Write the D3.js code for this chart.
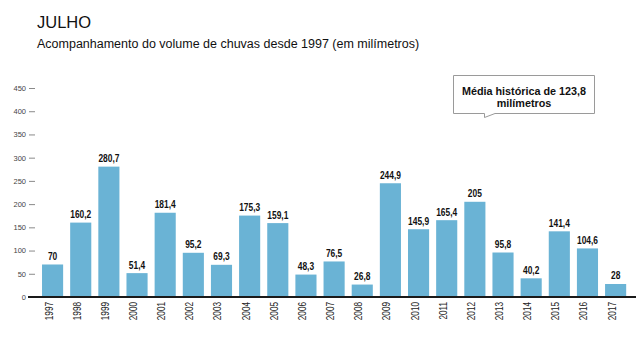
<!DOCTYPE html>
<html>
<head>
<meta charset="utf-8">
<script src="https://cdn.jsdelivr.net/npm/d3@7"></script>
<style>
  html, body { margin: 0; padding: 0; background: #fff; }
  svg { display: block; }
</style>
</head>
<body>
<svg id="chart" width="640" height="341"></svg>
<script>
// Rainfall in July, 1997–2017 (mm)
const years = ["1997","1998","1999","2000","2001","2002","2003","2004","2005","2006","2007",
               "2008","2009","2010","2011","2012","2013","2014","2015","2016","2017"];
const rainfall = [70, 160.2, 280.7, 51.4, 181.4, 95.2, 69.3, 175.3, 159.1, 48.3, 76.5,
                  26.8, 244.9, 145.9, 165.4, 205, 95.8, 40.2, 141.4, 104.6, 28];
const yTicks = [0, 50, 100, 150, 200, 250, 300, 350, 400, 450];
const historicalMean = 123.8;

const fmt = v => String(v).replace(".", ",");

const svg = d3.select("#chart");
const sans = "'Liberation Sans', Arial, sans-serif";
const condense = 0.8; // horizontal squeeze for the condensed labels

// Title block
svg.append("text").attr("x", 37).attr("y", 28)
  .attr("font-family", sans).attr("font-size", 16.5).attr("fill", "#111")
  .text("JULHO");
svg.append("text").attr("x", 37).attr("y", 48)
  .attr("font-family", sans).attr("font-size", 12.5).attr("fill", "#111")
  .text("Acompanhamento do volume de chuvas desde 1997 (em milímetros)");

// Scales
const x = d3.scaleBand().domain(years).range([38.5, 629.7])
  .paddingInner(0.25).paddingOuter(0.125);
const y = d3.scaleLinear().domain([0, 450]).range([297, 88]);

// Y axis: short gray ticks with small labels
const yAxis = svg.append("g").attr("transform", "translate(35,0)")
  .call(d3.axisLeft(y).tickValues(yTicks).tickSize(6).tickPadding(3));
yAxis.select(".domain").remove();
yAxis.selectAll(".tick line").attr("stroke", "#8a8a8a");
yAxis.selectAll(".tick text").attr("font-family", sans).attr("font-size", 7.5).attr("fill", "#444");

// Bars
svg.append("g").selectAll("rect").data(rainfall).join("rect")
  .attr("x", (d, i) => x(years[i]))
  .attr("width", x.bandwidth())
  .attr("y", d => y(d))
  .attr("height", d => y(0) - y(d))
  .attr("fill", "#6ab3d5");

// Value labels (condensed bold)
svg.append("g").selectAll("text").data(rainfall).join("text")
  .attr("transform", (d, i) =>
    `translate(${x(years[i]) + x.bandwidth() / 2},${y(d) - 4.5}) scale(${condense},1)`)
  .attr("text-anchor", "middle")
  .attr("font-family", sans).attr("font-weight", "bold").attr("font-size", 10.5)
  .attr("fill", "#111")
  .text(d => fmt(d));

// Baseline
svg.append("line").attr("x1", 28).attr("x2", 636).attr("y1", y(0)).attr("y2", y(0))
  .attr("stroke", "#1a1a1a").attr("stroke-width", 2);

// Year labels, rotated and condensed
svg.append("g").selectAll("text").data(years).join("text")
  .attr("transform", d =>
    `translate(${x(d) + x.bandwidth() / 2},302) rotate(-90) scale(0.82,1)`)
  .attr("text-anchor", "end")
  .attr("font-family", sans).attr("font-size", 10).attr("fill", "#222")
  .text(d => d);

// Callout with the historical mean
const callout = svg.append("g");
callout.append("path")
  .attr("d", "M453.5,75.5 H594.5 V113.5 H495 L484.5,117.5 L484.5,113.5 H453.5 Z")
  .attr("fill", "#fff").attr("stroke", "#9a9a9a").attr("stroke-width", 1);
callout.append("text").attr("x", 524).attr("y", 95).attr("text-anchor", "middle")
  .attr("font-family", sans).attr("font-weight", "bold").attr("font-size", 10.8).attr("fill", "#111")
  .text(`Média histórica de ${fmt(historicalMean)}`);
callout.append("text").attr("x", 524).attr("y", 107).attr("text-anchor", "middle")
  .attr("font-family", sans).attr("font-weight", "bold").attr("font-size", 10.8).attr("fill", "#111")
  .text("milímetros");
</script>
</body>
</html>
